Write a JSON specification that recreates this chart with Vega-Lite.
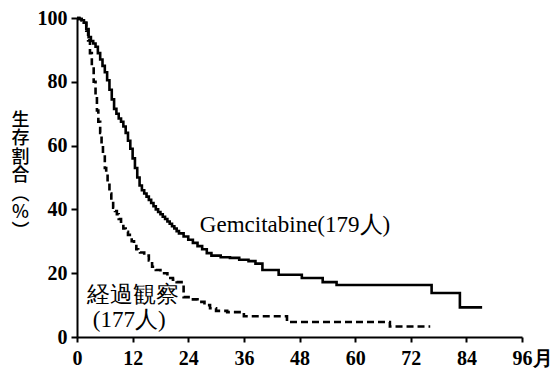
{
  "$schema": "https://vega.github.io/schema/vega-lite/v6.json",
  "width": 445,
  "height": 319,
  "autosize": {"type": "none"},
  "padding": {"left": 77, "top": 18, "right": 32, "bottom": 38},
  "background": "white",
  "config": {
    "view": {"stroke": null},
    "axis": {
      "grid": false,
      "domainColor": "black",
      "domainWidth": 2,
      "tickColor": "black",
      "tickWidth": 2,
      "labelColor": "black",
      "labelFont": "Liberation Serif, Times New Roman, serif",
      "labelFontSize": 20,
      "labelFontWeight": "bold"
    }
  },
  "datasets": {
    "curves": [
      {"group": "Gemcitabine", "month": 0, "pct": 100},
      {"group": "Gemcitabine", "month": 0.5, "pct": 99.7},
      {"group": "Gemcitabine", "month": 1, "pct": 99.3},
      {"group": "Gemcitabine", "month": 1.5, "pct": 98.5},
      {"group": "Gemcitabine", "month": 2, "pct": 96.5},
      {"group": "Gemcitabine", "month": 2.5, "pct": 94},
      {"group": "Gemcitabine", "month": 3, "pct": 92.8},
      {"group": "Gemcitabine", "month": 3.5, "pct": 92},
      {"group": "Gemcitabine", "month": 4, "pct": 91},
      {"group": "Gemcitabine", "month": 4.5, "pct": 89},
      {"group": "Gemcitabine", "month": 5, "pct": 87},
      {"group": "Gemcitabine", "month": 5.5, "pct": 85},
      {"group": "Gemcitabine", "month": 6, "pct": 83},
      {"group": "Gemcitabine", "month": 6.5, "pct": 80.5},
      {"group": "Gemcitabine", "month": 7, "pct": 77.5},
      {"group": "Gemcitabine", "month": 7.5, "pct": 74.5},
      {"group": "Gemcitabine", "month": 8, "pct": 71.5},
      {"group": "Gemcitabine", "month": 8.5, "pct": 70},
      {"group": "Gemcitabine", "month": 9, "pct": 68.5},
      {"group": "Gemcitabine", "month": 9.5, "pct": 67.5},
      {"group": "Gemcitabine", "month": 10, "pct": 66},
      {"group": "Gemcitabine", "month": 10.5, "pct": 64},
      {"group": "Gemcitabine", "month": 11, "pct": 61.5},
      {"group": "Gemcitabine", "month": 11.5, "pct": 59},
      {"group": "Gemcitabine", "month": 12, "pct": 56},
      {"group": "Gemcitabine", "month": 12.5, "pct": 53},
      {"group": "Gemcitabine", "month": 13, "pct": 50},
      {"group": "Gemcitabine", "month": 13.5, "pct": 47.5},
      {"group": "Gemcitabine", "month": 14, "pct": 46},
      {"group": "Gemcitabine", "month": 14.5, "pct": 45},
      {"group": "Gemcitabine", "month": 15, "pct": 44},
      {"group": "Gemcitabine", "month": 15.5, "pct": 43},
      {"group": "Gemcitabine", "month": 16, "pct": 42},
      {"group": "Gemcitabine", "month": 16.5, "pct": 41},
      {"group": "Gemcitabine", "month": 17, "pct": 40},
      {"group": "Gemcitabine", "month": 17.5, "pct": 39.2},
      {"group": "Gemcitabine", "month": 18, "pct": 38.5},
      {"group": "Gemcitabine", "month": 18.5, "pct": 37.7},
      {"group": "Gemcitabine", "month": 19, "pct": 37},
      {"group": "Gemcitabine", "month": 19.5, "pct": 36.2},
      {"group": "Gemcitabine", "month": 20, "pct": 35.5},
      {"group": "Gemcitabine", "month": 20.5, "pct": 34.7},
      {"group": "Gemcitabine", "month": 21, "pct": 34},
      {"group": "Gemcitabine", "month": 21.5, "pct": 33.2},
      {"group": "Gemcitabine", "month": 22, "pct": 32.5},
      {"group": "Gemcitabine", "month": 23, "pct": 31.5},
      {"group": "Gemcitabine", "month": 24, "pct": 30.5},
      {"group": "Gemcitabine", "month": 25, "pct": 29.5},
      {"group": "Gemcitabine", "month": 26, "pct": 28.5},
      {"group": "Gemcitabine", "month": 27, "pct": 27.5},
      {"group": "Gemcitabine", "month": 28, "pct": 26.3},
      {"group": "Gemcitabine", "month": 29, "pct": 25.5},
      {"group": "Gemcitabine", "month": 31, "pct": 25},
      {"group": "Gemcitabine", "month": 33, "pct": 24.8},
      {"group": "Gemcitabine", "month": 35, "pct": 24.2},
      {"group": "Gemcitabine", "month": 37, "pct": 23.8},
      {"group": "Gemcitabine", "month": 38.5, "pct": 23},
      {"group": "Gemcitabine", "month": 40, "pct": 21},
      {"group": "Gemcitabine", "month": 43.5, "pct": 19.5},
      {"group": "Gemcitabine", "month": 48.5, "pct": 18.5},
      {"group": "Gemcitabine", "month": 53, "pct": 17.2},
      {"group": "Gemcitabine", "month": 56, "pct": 16.3},
      {"group": "Gemcitabine", "month": 76.5, "pct": 13.8},
      {"group": "Gemcitabine", "month": 82.6, "pct": 9.3},
      {"group": "Gemcitabine", "month": 87.4, "pct": 9.3},
      {"group": "経過観察", "month": 0, "pct": 100},
      {"group": "経過観察", "month": 0.5, "pct": 99.7},
      {"group": "経過観察", "month": 1, "pct": 99.3},
      {"group": "経過観察", "month": 1.5, "pct": 98.5},
      {"group": "経過観察", "month": 2, "pct": 96},
      {"group": "経過観察", "month": 2.4, "pct": 93},
      {"group": "経過観察", "month": 2.8, "pct": 89},
      {"group": "経過観察", "month": 3.2, "pct": 85},
      {"group": "経過観察", "month": 3.6, "pct": 80},
      {"group": "経過観察", "month": 4, "pct": 76},
      {"group": "経過観察", "month": 4.3, "pct": 71},
      {"group": "経過観察", "month": 4.6, "pct": 67.5},
      {"group": "経過観察", "month": 5, "pct": 64},
      {"group": "経過観察", "month": 5.3, "pct": 60.5},
      {"group": "経過観察", "month": 5.6, "pct": 57.5},
      {"group": "経過観察", "month": 6, "pct": 53},
      {"group": "経過観察", "month": 6.3, "pct": 51},
      {"group": "経過観察", "month": 6.6, "pct": 48.5},
      {"group": "経過観察", "month": 7, "pct": 45},
      {"group": "経過観察", "month": 7.4, "pct": 42.5},
      {"group": "経過観察", "month": 7.8, "pct": 40.5},
      {"group": "経過観察", "month": 8.2, "pct": 39.5},
      {"group": "経過観察", "month": 8.6, "pct": 38.5},
      {"group": "経過観察", "month": 9, "pct": 37},
      {"group": "経過観察", "month": 9.5, "pct": 35.5},
      {"group": "経過観察", "month": 10, "pct": 34},
      {"group": "経過観察", "month": 10.5, "pct": 33},
      {"group": "経過観察", "month": 11, "pct": 32},
      {"group": "経過観察", "month": 11.4, "pct": 31},
      {"group": "経過観察", "month": 11.8, "pct": 30},
      {"group": "経過観察", "month": 12.3, "pct": 29},
      {"group": "経過観察", "month": 12.8, "pct": 27.5},
      {"group": "経過観察", "month": 13.2, "pct": 26.8},
      {"group": "経過観察", "month": 13.6, "pct": 26.5},
      {"group": "経過観察", "month": 14.5, "pct": 25.5},
      {"group": "経過観察", "month": 15.5, "pct": 24},
      {"group": "経過観察", "month": 16.2, "pct": 22},
      {"group": "経過観察", "month": 17, "pct": 21},
      {"group": "経過観察", "month": 18, "pct": 20},
      {"group": "経過観察", "month": 19.5, "pct": 18.5},
      {"group": "経過観察", "month": 20.7, "pct": 18},
      {"group": "経過観察", "month": 21.5, "pct": 17.2},
      {"group": "経過観察", "month": 23, "pct": 12.5},
      {"group": "経過観察", "month": 24.5, "pct": 11.8},
      {"group": "経過観察", "month": 26, "pct": 11},
      {"group": "経過観察", "month": 27.5, "pct": 10},
      {"group": "経過観察", "month": 28.7, "pct": 9},
      {"group": "経過観察", "month": 30, "pct": 8.2},
      {"group": "経過観察", "month": 32.4, "pct": 7.8},
      {"group": "経過観察", "month": 36, "pct": 6.5},
      {"group": "経過観察", "month": 45.3, "pct": 4.7},
      {"group": "経過観察", "month": 67.5, "pct": 3.3},
      {"group": "経過観察", "month": 76.2, "pct": 3.3}
    ],
    "labels": [
      {"label": "Gemcitabine(179人)", "month": 26.5, "pct": 35},
      {"label": "経過観察", "month": 2.1, "pct": 13.2},
      {"label": "(177人)", "month": 3.4, "pct": 5.3}
    ]
  },
  "layer": [
    {
      "data": {"name": "curves"},
      "mark": {"type": "line", "interpolate": "step-after", "color": "black", "strokeWidth": 2.6},
      "encoding": {
        "x": {
          "field": "month", "type": "quantitative",
          "scale": {"domain": [0, 96], "nice": false},
          "axis": {
            "values": [0, 12, 24, 36, 48, 60, 72, 84, 96],
            "title": null,
            "tickSize": 5,
            "labelPadding": 6,
            "labelExpr": "datum.value == 96 ? '96月' : datum.label",
            "labelOffset": {"condition": {"test": "datum.value == 96", "value": 10}, "value": 0},
            "labelFlush": false
          }
        },
        "y": {
          "field": "pct", "type": "quantitative",
          "scale": {"domain": [0, 100], "nice": false},
          "axis": {
            "values": [0, 20, 40, 60, 80, 100],
            "tickSize": 6,
            "labelPadding": 4,
            "title": ["生", "存", "割", "合", "︵", "%", "︶"],
            "titleAngle": 0,
            "titleFont": "Noto Sans CJK JP",
            "titleFontSize": 18,
            "titleFontWeight": 500,
            "titleLineHeight": 18.5,
            "titleAlign": "center",
            "titleBaseline": "top",
            "titleX": -57,
            "titleY": 93,
            "titleColor": "black"
          }
        },
        "strokeDash": {
          "field": "group", "type": "nominal",
          "scale": {"domain": ["Gemcitabine", "経過観察"], "range": [[1, 0], [7, 4]]},
          "legend": null
        },
        "detail": {"field": "group"}
      }
    },
    {
      "data": {"name": "labels"},
      "mark": {"type": "text", "align": "left", "baseline": "middle", "font": "Liberation Serif, Times New Roman, serif", "fontSize": 23, "color": "black"},
      "encoding": {
        "x": {"field": "month", "type": "quantitative"},
        "y": {"field": "pct", "type": "quantitative"},
        "text": {"field": "label"}
      }
    }
  ]
}
